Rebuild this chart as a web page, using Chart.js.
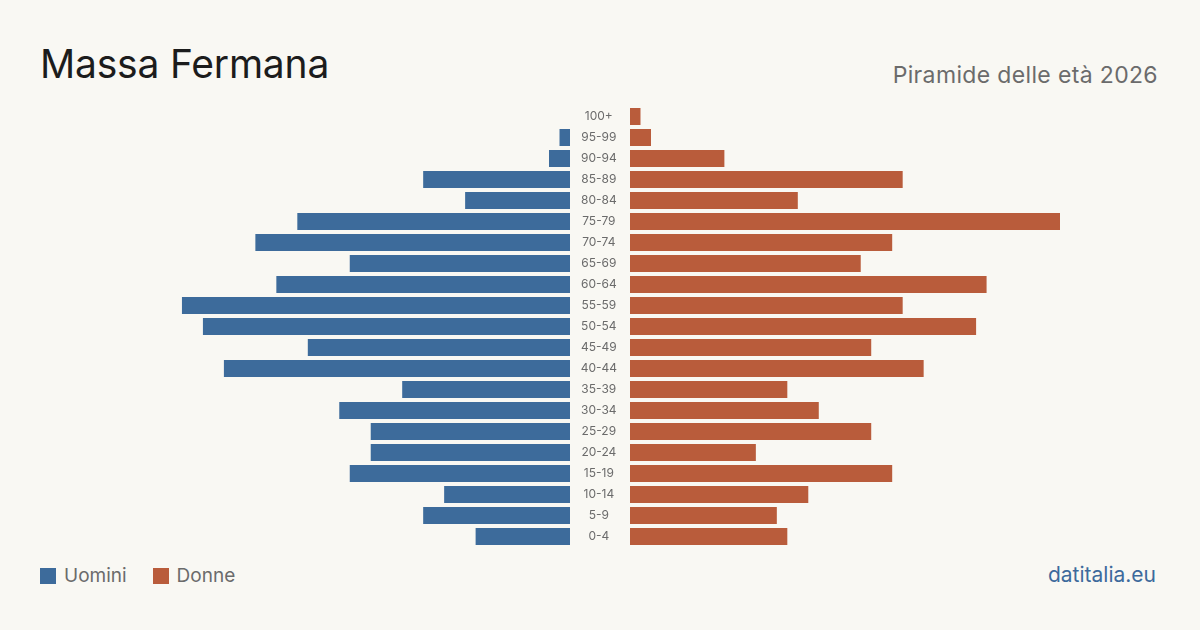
<!DOCTYPE html>
<html>
<head>
<meta charset="utf-8">
<script src="https://cdn.jsdelivr.net/npm/chart.js@4/dist/chart.umd.min.js"></script>
<style>
  html, body { margin: 0; padding: 0; }
  body { width: 1200px; height: 630px; background: #f9f8f3; position: relative; overflow: hidden; font-family: Inter, "Noto Sans", sans-serif; }
  h1 { position: absolute; left: 40px; top: 40px; margin: 0; font-size: 39px; font-weight: 400; color: #1c1c1c; letter-spacing: -0.2px; }
  .sub { position: absolute; right: 42px; top: 61px; font-size: 23px; color: #6b6b6b; letter-spacing: 0.35px; }
  #left { position: absolute; left: 140px; top: 106px; }
  #right { position: absolute; left: 570px; top: 106px; }
  .legend { position: absolute; left: 40px; top: 564px; font-size: 19px; color: #6b6b6b; display: flex; }
  .legend span { display: flex; align-items: center; margin-right: 26px; }
  .legend i { display: inline-block; width: 16px; height: 16px; margin-right: 8px; }
  .src { position: absolute; right: 44px; top: 562px; font-size: 21px; color: #3d6a9c; }
</style>
</head>
<body>
<h1>Massa Fermana</h1>
<div class="sub">Piramide delle età 2026</div>
<canvas id="left" width="430" height="441"></canvas>
<canvas id="right" width="490" height="441"></canvas>
<div class="legend" id="legend"></div>
<div class="src">datitalia.eu</div>
<script>
const ages = ["0-4", "5-9", "10-14", "15-19", "20-24", "25-29", "30-34", "35-39", "40-44", "45-49",
  "50-54", "55-59", "60-64", "65-69", "70-74", "75-79", "80-84", "85-89", "90-94", "95-99", "100+"];
const uomini = [9, 14, 12, 21, 19, 19, 22, 16, 33, 25, 35, 37, 28, 21, 30, 26, 10, 14, 2, 1, 0];
const donne = [15, 14, 17, 25, 12, 23, 18, 15, 28, 23, 33, 26, 34, 22, 25, 41, 16, 26, 9, 2, 1];

const blue = "#3d6b9b";
const orange = "#b95c3b";
const maxVal = Math.max(...uomini, ...donne);

function makeChart(id, label, values, color, isLeft) {
  return new Chart(document.getElementById(id), {
    type: "bar",
    data: {
      labels: ages,
      datasets: [{
        label: label,
        data: values,
        backgroundColor: color,
        barPercentage: 0.81,
        categoryPercentage: 1
      }]
    },
    options: {
      indexAxis: "y",
      responsive: false,
      animation: false,
      devicePixelRatio: 1,
      layout: { padding: 0 },
      plugins: { legend: { display: false }, tooltip: { enabled: false } },
      scales: {
        x: { display: false, min: 0, max: maxVal, reverse: isLeft },
        y: {
          display: !isLeft,
          reverse: true,
          grid: { display: false, drawTicks: false },
          border: { display: false },
          ticks: {
            crossAlign: "center",
            padding: 13,
            color: "#6b6b6b",
            font: { family: "Inter, 'Noto Sans', sans-serif", size: 12 }
          },
          afterFit: (axis) => {
            if (isLeft) return;
            // fixed middle column, no extra vertical padding
            axis.width = 60;
            axis.paddingTop = 0;
            axis.paddingBottom = 0;
          }
        }
      }
    }
  });
}

makeChart("left", "Uomini", uomini, blue, true);
makeChart("right", "Donne", donne, orange, false);

const legend = document.getElementById("legend");
[["Uomini", blue], ["Donne", orange]].forEach(([name, c]) => {
  const s = document.createElement("span");
  s.innerHTML = '<i style="background:' + c + '"></i>' + name;
  legend.appendChild(s);
});
</script>
</body>
</html>
